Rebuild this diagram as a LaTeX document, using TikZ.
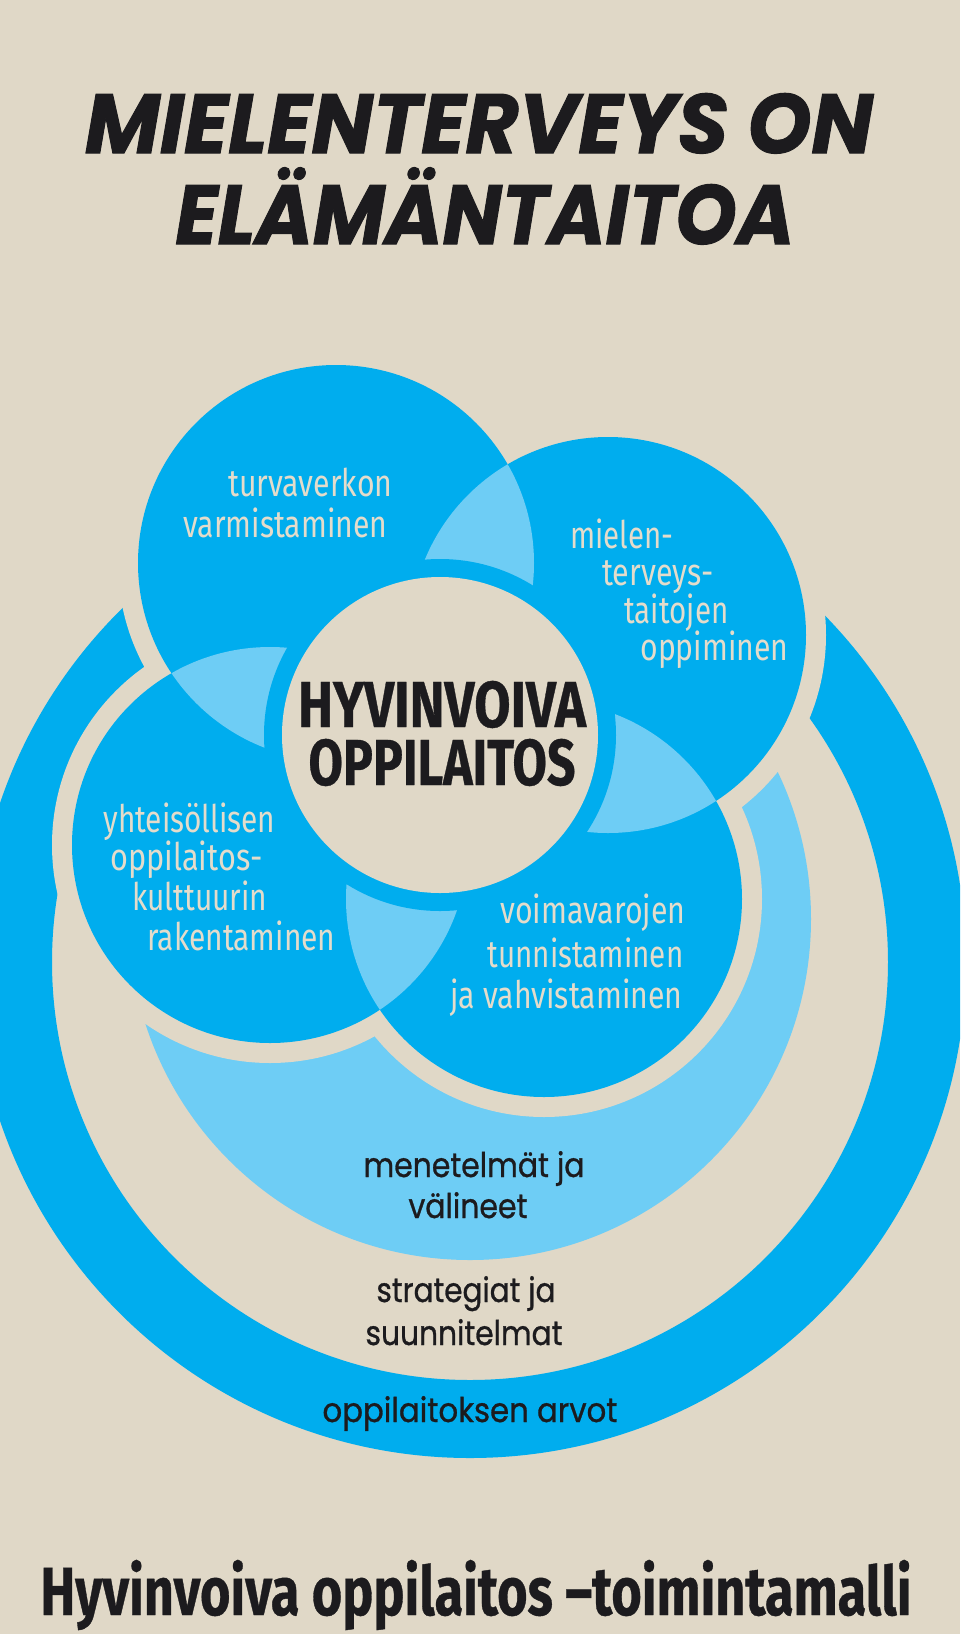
\documentclass[tikz,border=0pt]{standalone}
\usepackage{fontspec}
\usepackage{graphicx}
\newfontfamily\circfont{Fira Sans}
\newfontfamily\heavyfont{Fira Sans}[FakeBold=0.6]
\newfontfamily\titlefont{Poppins}[FakeBold=1.2]
\newfontfamily\ringfont{Poppins}[FakeBold=0.9]
\definecolor{bgc}{HTML}{E0D8C7}
\definecolor{mainblue}{HTML}{00ADEE}
\definecolor{lightblue}{HTML}{6ECDF5}
\definecolor{ctext}{HTML}{E4DCCB}
\definecolor{darktext}{HTML}{1C1B1E}
\newlength\fitlen
\newcommand\fitto[2]{\settowidth\fitlen{#2}\pgfmathsetmacro\fitr{#1*0.5/\fitlen}\scalebox{\fitr}[1]{#2}}
\tikzset{
  ctxt/.style={inner sep=0pt, anchor=base west, text=ctext, font=\circfont\fontsize{19}{21}\selectfont},
  heavytxt/.style={inner sep=0pt, anchor=base, align=center, text=darktext, font=\heavyfont\bfseries\fontsize{32.5}{29}\selectfont},
  ringtxt/.style={inner sep=0pt, anchor=base, text=darktext, font=\ringfont\fontsize{17}{19}\selectfont},
  titletxt/.style={inner sep=0pt, anchor=base, text=darktext, font=\titlefont\bfseries\itshape\fontsize{42}{46}\selectfont},
  bottomtxt/.style={inner sep=0pt, anchor=base, text=darktext, font=\heavyfont\bfseries\fontsize{34}{38}\selectfont},
}
\begin{document}
\begin{tikzpicture}[x=0.5pt,y=-0.5pt]
\useasboundingbox (0,0) rectangle (960,1634);
\clip (0,0) rectangle (960,1634);
\fill[bgc] (0,0) rectangle (960,1634);
% centres
\coordinate (cT) at (336,563);
\coordinate (cR) at (608,635);
\coordinate (cL) at (270,845);
\coordinate (cB) at (544,899);
\coordinate (cC) at (440,735);
\coordinate (cO) at (470,962);
\coordinate (cU) at (470,919);
% outer ring
\begin{scope}
  \clip (0,560) rectangle (960,1634);
  \fill[mainblue,even odd rule] (cO) circle (496) (cO) circle (418);
\end{scope}
% light U region
\fill[lightblue] (cU) circle (341);
% gaps
\foreach \c in {cT,cR,cL,cB} { \fill[bgc] (\c) circle (218); }
% circles
\foreach \c in {cT,cR,cL,cB} { \fill[mainblue] (\c) circle (198); }
% lenses
\begin{scope}\clip (cT) circle (198); \fill[lightblue] (cR) circle (198); \end{scope}
\begin{scope}\clip (cT) circle (198); \fill[lightblue] (cL) circle (198); \end{scope}
\begin{scope}\clip (cL) circle (198); \fill[lightblue] (cB) circle (198); \end{scope}
\begin{scope}\clip (cR) circle (198); \fill[lightblue] (cB) circle (198); \end{scope}
% centre
\fill[mainblue] (cC) circle (176);
\fill[bgc] (cC) circle (158);
% titles
\node[titletxt] (title1) at (479,153) {\fitto{788}{MIELENTERVEYS ON}};
\node[titletxt] (title2) at (485,244) {\fitto{619}{ELÄMÄNTAITOA}};
% circle texts
\node[ctxt] (t1) at (228,496) {\fitto{164}{turvaverkon}};
\node[ctxt] (t2) at (183,537) {\fitto{204}{varmistaminen}};
\node[ctxt] (r1) at (570,548) {\fitto{103}{mielen-}};
\node[ctxt] (r2) at (602,585) {\fitto{111}{terveys-}};
\node[ctxt] (r3) at (624,623) {\fitto{104}{taitojen}};
\node[ctxt] (r4) at (640,660) {\fitto{148}{oppiminen}};
\node[ctxt] (l1) at (103,832) {\fitto{172}{yhteisöllisen}};
\node[ctxt] (l2) at (110,870) {\fitto{152}{oppilaitos-}};
\node[ctxt] (l3) at (132,910) {\fitto{135}{kulttuurin}};
\node[ctxt] (l4) at (147,950) {\fitto{188}{rakentaminen}};
\node[ctxt] (b1) at (500,923) {\fitto{185}{voimavarojen}};
\node[ctxt] (b2) at (487,967) {\fitto{196}{tunnistaminen}};
\node[ctxt] (b3) at (450,1008) {\fitto{232}{ja vahvistaminen}};
% centre text
\node[heavytxt] (ctr) at (442,785) {\fitto{288}{HYVINVOIVA}\\\fitto{267}{OPPILAITOS}};
% ring texts
\node[ringtxt] (m1) at (474,1177) {\fitto{221}{menetelmät ja}};
\node[ringtxt] (m2) at (468,1218) {\fitto{119}{välineet}};
\node[ringtxt] (s1) at (466,1302) {\fitto{179}{strategiat ja}};
\node[ringtxt] (s2) at (464,1345) {\fitto{197}{suunnitelmat}};
\node[ringtxt] (o1) at (470,1422) {\fitto{295}{oppilaitoksen arvot}};
% bottom title
\node[bottomtxt] (bt) at (476,1615) {\fitto{871}{Hyvinvoiva oppilaitos –toimintamalli}};
\end{tikzpicture}
\end{document}
